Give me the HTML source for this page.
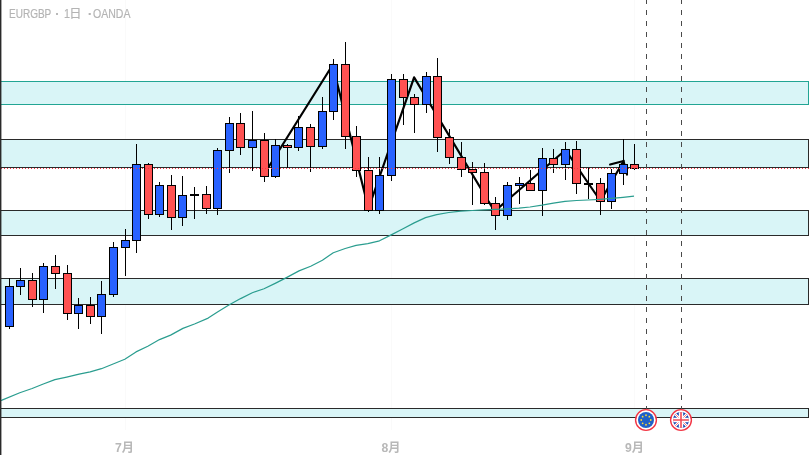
<!DOCTYPE html>
<html><head><meta charset="utf-8"><title>EURGBP</title>
<style>
html,body{margin:0;padding:0;background:#fff;}
body{width:809px;height:455px;position:relative;overflow:hidden;font-family:"Liberation Sans","Noto Sans CJK JP",sans-serif;}
.t{position:absolute;white-space:nowrap;}
.tt{top:5.65px;font-size:12.6px;line-height:16px;color:#b4b4b4;transform-origin:0 0;-webkit-text-stroke:0.2px #b4b4b4;}
.m{font-size:12.2px;font-weight:bold;color:#b8b8b8;line-height:14px;top:440.8px;width:40px;text-align:center;}
</style></head><body>
<svg width="809" height="455" viewBox="0 0 809 455" style="position:absolute;left:0;top:0">
<rect x="125" y="0" width="1" height="430" fill="#fafafa"/>
<rect x="391" y="0" width="1" height="430" fill="#fafafa"/>
<rect x="634" y="0" width="1" height="430" fill="#fafafa"/>
<rect x="-5" y="81.5" width="813.5" height="23" fill="#d9f5f7" stroke="#22a594" stroke-width="1" shape-rendering="crispEdges"/>
<rect x="-5" y="139.5" width="813.5" height="28" fill="#d9f5f7" stroke="#2a2a2a" stroke-width="1" shape-rendering="crispEdges"/>
<rect x="-5" y="210.5" width="813.5" height="25" fill="#d9f5f7" stroke="#2a2a2a" stroke-width="1" shape-rendering="crispEdges"/>
<rect x="-5" y="278.5" width="813.5" height="26" fill="#d9f5f7" stroke="#2a2a2a" stroke-width="1" shape-rendering="crispEdges"/>
<rect x="-5" y="408.5" width="813.5" height="9" fill="#d9f5f7" stroke="#2a2a2a" stroke-width="1" shape-rendering="crispEdges"/>
<line x1="646.5" y1="-1" x2="646.5" y2="409" stroke="#4a4a4a" stroke-width="1" stroke-dasharray="5 6" shape-rendering="crispEdges"/>
<line x1="681.5" y1="-1" x2="681.5" y2="409" stroke="#4a4a4a" stroke-width="1" stroke-dasharray="5 6" shape-rendering="crispEdges"/>
<path d="M263.6 175 L332.6 65 L368.5 208.5 L414.1 77.4 L494.5 211.3 L565.5 150 L600.5 201 L623.5 161" fill="none" stroke="#000" stroke-width="2.2" stroke-linejoin="round" stroke-linecap="round"/>
<path d="M610.1 164.5 L623.5 161 L627 174.6" fill="none" stroke="#000" stroke-width="2.2" stroke-linejoin="miter" stroke-linecap="round"/>
<rect x="9" y="278" width="1" height="51" fill="#000" shape-rendering="crispEdges"/>
<rect x="5" y="286" width="9" height="41" fill="#000" shape-rendering="crispEdges"/>
<rect x="6" y="287" width="7" height="39" fill="#2962ff" shape-rendering="crispEdges"/>
<rect x="20" y="268" width="1" height="27" fill="#000" shape-rendering="crispEdges"/>
<rect x="16" y="280" width="9" height="7" fill="#000" shape-rendering="crispEdges"/>
<rect x="17" y="281" width="7" height="5" fill="#2962ff" shape-rendering="crispEdges"/>
<rect x="32" y="273" width="1" height="34" fill="#000" shape-rendering="crispEdges"/>
<rect x="28" y="280" width="9" height="20" fill="#000" shape-rendering="crispEdges"/>
<rect x="29" y="281" width="7" height="18" fill="#ff5252" shape-rendering="crispEdges"/>
<rect x="43" y="263" width="1" height="50" fill="#000" shape-rendering="crispEdges"/>
<rect x="39" y="266" width="9" height="34" fill="#000" shape-rendering="crispEdges"/>
<rect x="40" y="267" width="7" height="32" fill="#2962ff" shape-rendering="crispEdges"/>
<rect x="55" y="255" width="1" height="34" fill="#000" shape-rendering="crispEdges"/>
<rect x="51" y="266" width="9" height="8" fill="#000" shape-rendering="crispEdges"/>
<rect x="52" y="267" width="7" height="6" fill="#ff5252" shape-rendering="crispEdges"/>
<rect x="67" y="265" width="1" height="55" fill="#000" shape-rendering="crispEdges"/>
<rect x="63" y="273" width="9" height="41" fill="#000" shape-rendering="crispEdges"/>
<rect x="64" y="274" width="7" height="39" fill="#ff5252" shape-rendering="crispEdges"/>
<rect x="78" y="298" width="1" height="31" fill="#000" shape-rendering="crispEdges"/>
<rect x="74" y="305" width="9" height="9" fill="#000" shape-rendering="crispEdges"/>
<rect x="75" y="306" width="7" height="7" fill="#2962ff" shape-rendering="crispEdges"/>
<rect x="90" y="297" width="1" height="27" fill="#000" shape-rendering="crispEdges"/>
<rect x="86" y="305" width="9" height="12" fill="#000" shape-rendering="crispEdges"/>
<rect x="87" y="306" width="7" height="10" fill="#ff5252" shape-rendering="crispEdges"/>
<rect x="101" y="281" width="1" height="53" fill="#000" shape-rendering="crispEdges"/>
<rect x="97" y="294" width="9" height="23" fill="#000" shape-rendering="crispEdges"/>
<rect x="98" y="295" width="7" height="21" fill="#2962ff" shape-rendering="crispEdges"/>
<rect x="113" y="242" width="1" height="55" fill="#000" shape-rendering="crispEdges"/>
<rect x="109" y="247" width="9" height="48" fill="#000" shape-rendering="crispEdges"/>
<rect x="110" y="248" width="7" height="46" fill="#2962ff" shape-rendering="crispEdges"/>
<rect x="125" y="229" width="1" height="47" fill="#000" shape-rendering="crispEdges"/>
<rect x="121" y="240" width="9" height="8" fill="#000" shape-rendering="crispEdges"/>
<rect x="122" y="241" width="7" height="6" fill="#2962ff" shape-rendering="crispEdges"/>
<rect x="136" y="144" width="1" height="109" fill="#000" shape-rendering="crispEdges"/>
<rect x="132" y="164" width="9" height="77" fill="#000" shape-rendering="crispEdges"/>
<rect x="133" y="165" width="7" height="75" fill="#2962ff" shape-rendering="crispEdges"/>
<rect x="148" y="163" width="1" height="56" fill="#000" shape-rendering="crispEdges"/>
<rect x="144" y="164" width="9" height="51" fill="#000" shape-rendering="crispEdges"/>
<rect x="145" y="165" width="7" height="49" fill="#ff5252" shape-rendering="crispEdges"/>
<rect x="159" y="182" width="1" height="35" fill="#000" shape-rendering="crispEdges"/>
<rect x="155" y="185" width="9" height="30" fill="#000" shape-rendering="crispEdges"/>
<rect x="156" y="186" width="7" height="28" fill="#2962ff" shape-rendering="crispEdges"/>
<rect x="171" y="175" width="1" height="55" fill="#000" shape-rendering="crispEdges"/>
<rect x="167" y="185" width="9" height="33" fill="#000" shape-rendering="crispEdges"/>
<rect x="168" y="186" width="7" height="31" fill="#ff5252" shape-rendering="crispEdges"/>
<rect x="182" y="176" width="1" height="50" fill="#000" shape-rendering="crispEdges"/>
<rect x="178" y="195" width="9" height="23" fill="#000" shape-rendering="crispEdges"/>
<rect x="179" y="196" width="7" height="21" fill="#2962ff" shape-rendering="crispEdges"/>
<rect x="194" y="187" width="1" height="32" fill="#000" shape-rendering="crispEdges"/>
<rect x="190" y="194" width="9" height="2" fill="#000" shape-rendering="crispEdges"/>
<rect x="206" y="186" width="1" height="28" fill="#000" shape-rendering="crispEdges"/>
<rect x="202" y="194" width="9" height="15" fill="#000" shape-rendering="crispEdges"/>
<rect x="203" y="195" width="7" height="13" fill="#ff5252" shape-rendering="crispEdges"/>
<rect x="217" y="148" width="1" height="67" fill="#000" shape-rendering="crispEdges"/>
<rect x="213" y="150" width="9" height="59" fill="#000" shape-rendering="crispEdges"/>
<rect x="214" y="151" width="7" height="57" fill="#2962ff" shape-rendering="crispEdges"/>
<rect x="229" y="117" width="1" height="56" fill="#000" shape-rendering="crispEdges"/>
<rect x="225" y="123" width="9" height="28" fill="#000" shape-rendering="crispEdges"/>
<rect x="226" y="124" width="7" height="26" fill="#2962ff" shape-rendering="crispEdges"/>
<rect x="240" y="113" width="1" height="42" fill="#000" shape-rendering="crispEdges"/>
<rect x="236" y="123" width="9" height="25" fill="#000" shape-rendering="crispEdges"/>
<rect x="237" y="124" width="7" height="23" fill="#ff5252" shape-rendering="crispEdges"/>
<rect x="252" y="111" width="1" height="60" fill="#000" shape-rendering="crispEdges"/>
<rect x="248" y="140" width="9" height="8" fill="#000" shape-rendering="crispEdges"/>
<rect x="249" y="141" width="7" height="6" fill="#2962ff" shape-rendering="crispEdges"/>
<rect x="264" y="133" width="1" height="49" fill="#000" shape-rendering="crispEdges"/>
<rect x="260" y="140" width="9" height="37" fill="#000" shape-rendering="crispEdges"/>
<rect x="261" y="141" width="7" height="35" fill="#ff5252" shape-rendering="crispEdges"/>
<rect x="275" y="139" width="1" height="39" fill="#000" shape-rendering="crispEdges"/>
<rect x="271" y="145" width="9" height="32" fill="#000" shape-rendering="crispEdges"/>
<rect x="272" y="146" width="7" height="30" fill="#2962ff" shape-rendering="crispEdges"/>
<rect x="287" y="144" width="1" height="24" fill="#000" shape-rendering="crispEdges"/>
<rect x="283" y="145" width="9" height="3" fill="#000" shape-rendering="crispEdges"/>
<rect x="284" y="146" width="7" height="1" fill="#ff5252" shape-rendering="crispEdges"/>
<rect x="298" y="116" width="1" height="35" fill="#000" shape-rendering="crispEdges"/>
<rect x="294" y="127" width="9" height="21" fill="#000" shape-rendering="crispEdges"/>
<rect x="295" y="128" width="7" height="19" fill="#2962ff" shape-rendering="crispEdges"/>
<rect x="310" y="124" width="1" height="48" fill="#000" shape-rendering="crispEdges"/>
<rect x="306" y="127" width="9" height="20" fill="#000" shape-rendering="crispEdges"/>
<rect x="307" y="128" width="7" height="18" fill="#ff5252" shape-rendering="crispEdges"/>
<rect x="322" y="97" width="1" height="52" fill="#000" shape-rendering="crispEdges"/>
<rect x="318" y="111" width="9" height="36" fill="#000" shape-rendering="crispEdges"/>
<rect x="319" y="112" width="7" height="34" fill="#2962ff" shape-rendering="crispEdges"/>
<rect x="333" y="59" width="1" height="61" fill="#000" shape-rendering="crispEdges"/>
<rect x="329" y="64" width="9" height="48" fill="#000" shape-rendering="crispEdges"/>
<rect x="330" y="65" width="7" height="46" fill="#2962ff" shape-rendering="crispEdges"/>
<rect x="345" y="42" width="1" height="107" fill="#000" shape-rendering="crispEdges"/>
<rect x="341" y="64" width="9" height="73" fill="#000" shape-rendering="crispEdges"/>
<rect x="342" y="65" width="7" height="71" fill="#ff5252" shape-rendering="crispEdges"/>
<rect x="356" y="126" width="1" height="51" fill="#000" shape-rendering="crispEdges"/>
<rect x="352" y="136" width="9" height="35" fill="#000" shape-rendering="crispEdges"/>
<rect x="353" y="137" width="7" height="33" fill="#ff5252" shape-rendering="crispEdges"/>
<rect x="368" y="157" width="1" height="55" fill="#000" shape-rendering="crispEdges"/>
<rect x="364" y="170" width="9" height="41" fill="#000" shape-rendering="crispEdges"/>
<rect x="365" y="171" width="7" height="39" fill="#ff5252" shape-rendering="crispEdges"/>
<rect x="379" y="157" width="1" height="57" fill="#000" shape-rendering="crispEdges"/>
<rect x="375" y="175" width="9" height="36" fill="#000" shape-rendering="crispEdges"/>
<rect x="376" y="176" width="7" height="34" fill="#2962ff" shape-rendering="crispEdges"/>
<rect x="391" y="74" width="1" height="107" fill="#000" shape-rendering="crispEdges"/>
<rect x="387" y="79" width="9" height="97" fill="#000" shape-rendering="crispEdges"/>
<rect x="388" y="80" width="7" height="95" fill="#2962ff" shape-rendering="crispEdges"/>
<rect x="403" y="74" width="1" height="51" fill="#000" shape-rendering="crispEdges"/>
<rect x="399" y="79" width="9" height="19" fill="#000" shape-rendering="crispEdges"/>
<rect x="400" y="80" width="7" height="17" fill="#ff5252" shape-rendering="crispEdges"/>
<rect x="414" y="94" width="1" height="39" fill="#000" shape-rendering="crispEdges"/>
<rect x="410" y="97" width="9" height="8" fill="#000" shape-rendering="crispEdges"/>
<rect x="411" y="98" width="7" height="6" fill="#ff5252" shape-rendering="crispEdges"/>
<rect x="426" y="72" width="1" height="41" fill="#000" shape-rendering="crispEdges"/>
<rect x="422" y="76" width="9" height="29" fill="#000" shape-rendering="crispEdges"/>
<rect x="423" y="77" width="7" height="27" fill="#2962ff" shape-rendering="crispEdges"/>
<rect x="437" y="58" width="1" height="94" fill="#000" shape-rendering="crispEdges"/>
<rect x="433" y="76" width="9" height="62" fill="#000" shape-rendering="crispEdges"/>
<rect x="434" y="77" width="7" height="60" fill="#ff5252" shape-rendering="crispEdges"/>
<rect x="449" y="129" width="1" height="35" fill="#000" shape-rendering="crispEdges"/>
<rect x="445" y="137" width="9" height="21" fill="#000" shape-rendering="crispEdges"/>
<rect x="446" y="138" width="7" height="19" fill="#ff5252" shape-rendering="crispEdges"/>
<rect x="461" y="142" width="1" height="35" fill="#000" shape-rendering="crispEdges"/>
<rect x="457" y="157" width="9" height="13" fill="#000" shape-rendering="crispEdges"/>
<rect x="458" y="158" width="7" height="11" fill="#ff5252" shape-rendering="crispEdges"/>
<rect x="472" y="162" width="1" height="43" fill="#000" shape-rendering="crispEdges"/>
<rect x="468" y="169" width="9" height="4" fill="#000" shape-rendering="crispEdges"/>
<rect x="469" y="170" width="7" height="2" fill="#ff5252" shape-rendering="crispEdges"/>
<rect x="484" y="163" width="1" height="42" fill="#000" shape-rendering="crispEdges"/>
<rect x="480" y="172" width="9" height="32" fill="#000" shape-rendering="crispEdges"/>
<rect x="481" y="173" width="7" height="30" fill="#ff5252" shape-rendering="crispEdges"/>
<rect x="495" y="197" width="1" height="33" fill="#000" shape-rendering="crispEdges"/>
<rect x="491" y="203" width="9" height="13" fill="#000" shape-rendering="crispEdges"/>
<rect x="492" y="204" width="7" height="11" fill="#ff5252" shape-rendering="crispEdges"/>
<rect x="507" y="182" width="1" height="38" fill="#000" shape-rendering="crispEdges"/>
<rect x="503" y="185" width="9" height="31" fill="#000" shape-rendering="crispEdges"/>
<rect x="504" y="186" width="7" height="29" fill="#2962ff" shape-rendering="crispEdges"/>
<rect x="519" y="177" width="1" height="27" fill="#000" shape-rendering="crispEdges"/>
<rect x="515" y="183" width="9" height="3" fill="#000" shape-rendering="crispEdges"/>
<rect x="516" y="184" width="7" height="1" fill="#2962ff" shape-rendering="crispEdges"/>
<rect x="530" y="170" width="1" height="21" fill="#000" shape-rendering="crispEdges"/>
<rect x="526" y="183" width="9" height="8" fill="#000" shape-rendering="crispEdges"/>
<rect x="527" y="184" width="7" height="6" fill="#ff5252" shape-rendering="crispEdges"/>
<rect x="542" y="148" width="1" height="68" fill="#000" shape-rendering="crispEdges"/>
<rect x="538" y="158" width="9" height="33" fill="#000" shape-rendering="crispEdges"/>
<rect x="539" y="159" width="7" height="31" fill="#2962ff" shape-rendering="crispEdges"/>
<rect x="553" y="149" width="1" height="24" fill="#000" shape-rendering="crispEdges"/>
<rect x="549" y="158" width="9" height="7" fill="#000" shape-rendering="crispEdges"/>
<rect x="550" y="159" width="7" height="5" fill="#ff5252" shape-rendering="crispEdges"/>
<rect x="565" y="142" width="1" height="38" fill="#000" shape-rendering="crispEdges"/>
<rect x="561" y="149" width="9" height="16" fill="#000" shape-rendering="crispEdges"/>
<rect x="562" y="150" width="7" height="14" fill="#2962ff" shape-rendering="crispEdges"/>
<rect x="576" y="141" width="1" height="53" fill="#000" shape-rendering="crispEdges"/>
<rect x="572" y="149" width="9" height="35" fill="#000" shape-rendering="crispEdges"/>
<rect x="573" y="150" width="7" height="33" fill="#ff5252" shape-rendering="crispEdges"/>
<rect x="588" y="168" width="1" height="31" fill="#000" shape-rendering="crispEdges"/>
<rect x="584" y="183" width="9" height="2" fill="#000" shape-rendering="crispEdges"/>
<rect x="600" y="178" width="1" height="37" fill="#000" shape-rendering="crispEdges"/>
<rect x="596" y="183" width="9" height="19" fill="#000" shape-rendering="crispEdges"/>
<rect x="597" y="184" width="7" height="17" fill="#ff5252" shape-rendering="crispEdges"/>
<rect x="611" y="169" width="1" height="40" fill="#000" shape-rendering="crispEdges"/>
<rect x="607" y="173" width="9" height="29" fill="#000" shape-rendering="crispEdges"/>
<rect x="608" y="174" width="7" height="27" fill="#2962ff" shape-rendering="crispEdges"/>
<rect x="623" y="139" width="1" height="46" fill="#000" shape-rendering="crispEdges"/>
<rect x="619" y="164" width="9" height="10" fill="#000" shape-rendering="crispEdges"/>
<rect x="620" y="165" width="7" height="8" fill="#2962ff" shape-rendering="crispEdges"/>
<rect x="634" y="144" width="1" height="26" fill="#000" shape-rendering="crispEdges"/>
<rect x="630" y="164" width="9" height="5" fill="#000" shape-rendering="crispEdges"/>
<rect x="631" y="165" width="7" height="3" fill="#ff5252" shape-rendering="crispEdges"/>
<path d="M-2 401.5 L2 400.1 L19.8 392.7 L32.1 388.5 L43.3 384 L54.9 379.6 L66.7 377.1 L79.1 374.2 L90.2 371.9 L101.4 368.7 L112.5 364.3 L124.8 359.3 L136 351.9 L147.8 346.2 L159.5 339.6 L170.6 335.1 L182.9 328.4 L194.5 324 L208.2 318.1 L217.5 312 L228.9 305.1 L240.6 298.6 L252.3 292.7 L264 288.8 L275.7 283.1 L287.4 277.1 L299 270.9 L310.7 266.2 L322.4 260.2 L333.3 252.7 L345.2 248.5 L356.1 245.4 L367.8 243.6 L379.5 240.8 L391.2 234.9 L402.1 229.3 L414.2 222.9 L425.5 217.6 L436.7 214.6 L448.8 212.5 L460.9 211.1 L472.2 210.5 L483.4 209.8 L495.6 209.4 L507.7 208.9 L518.9 208.2 L530 207 L542 205.2 L553.4 203.2 L565 201.4 L576.6 200.5 L588 200 L600 199.3 L611.6 198.4 L623 197.3 L634 196.2" fill="none" stroke="#2a9d8f" stroke-width="1.2" stroke-linejoin="round"/>
<line x1="1" y1="168.5" x2="809" y2="168.5" stroke="#f23645" stroke-width="1" stroke-dasharray="1 2" shape-rendering="crispEdges"/>
<rect x="0" y="0" width="1" height="455" fill="#2a2a2a"/><rect x="1" y="0" width="1" height="455" fill="#2a2a2a" fill-opacity="0.42"/>
<circle cx="646" cy="420" r="10.4" fill="#fff" stroke="#f23645" stroke-width="1.4"/>
<circle cx="646" cy="420" r="8.0" fill="#1e60c8"/>
<circle cx="646.00" cy="415.25" r="0.88" fill="#ffd833"/>
<circle cx="649.36" cy="416.64" r="0.88" fill="#ffd833"/>
<circle cx="650.75" cy="420.00" r="0.88" fill="#ffd833"/>
<circle cx="649.36" cy="423.36" r="0.88" fill="#ffd833"/>
<circle cx="646.00" cy="424.75" r="0.88" fill="#ffd833"/>
<circle cx="642.64" cy="423.36" r="0.88" fill="#ffd833"/>
<circle cx="641.25" cy="420.00" r="0.88" fill="#ffd833"/>
<circle cx="642.64" cy="416.64" r="0.88" fill="#ffd833"/>
<circle cx="681" cy="420" r="10.4" fill="#fff" stroke="#f23645" stroke-width="1.4"/>
<clipPath id="ukc"><circle cx="681" cy="420" r="8.0"/></clipPath>
<g clip-path="url(#ukc)"><rect x="672" y="411" width="18" height="18" fill="#1a47b0"/><path d="M672 411 L690 429 M690 411 L672 429" stroke="#fff" stroke-width="2.5"/><path d="M672 411 L690 429 M690 411 L672 429" stroke="#f04a55" stroke-width="0.7"/><path d="M681 411 V429 M672 420 H690" stroke="#fff" stroke-width="4.4"/><path d="M681 411 V429 M672 420 H690" stroke="#f04a55" stroke-width="1.6"/></g>
</svg>
<div class="t tt" style="left:9.3px;transform:scaleX(0.795)">EURGBP</div>
<div class="t tt" style="left:55.3px;font-weight:bold">·</div>
<div class="t tt" style="left:63.8px"><span style="display:inline-block;transform:scaleX(0.85);transform-origin:0 0">1</span></div>
<div class="t tt" style="left:69.2px;font-size:12.2px;top:5.8px">日</div>
<div class="t tt" style="left:87.9px;font-weight:bold">·</div>
<div class="t tt" style="left:92.8px;transform:scaleX(0.837)">OANDA</div>
<div class="t m" style="left:104.5px">7月</div>
<div class="t m" style="left:371px">8月</div>
<div class="t m" style="left:614.5px">9月</div>
</body></html>
